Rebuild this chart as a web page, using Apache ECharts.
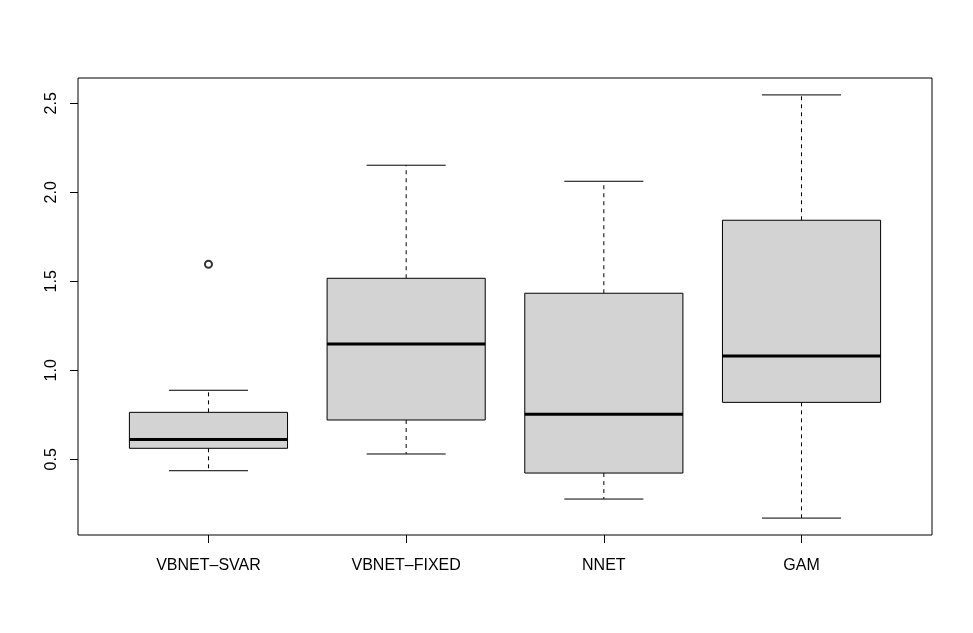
<!DOCTYPE html>
<html>
<head>
<meta charset="utf-8">
<script src="https://cdn.jsdelivr.net/npm/echarts@6/dist/echarts.min.js"></script>
<style>html,body{margin:0;padding:0;background:#fff}#chart{width:973px;height:633px}</style>
</head>
<body>
<div id="chart"></div>
<script>
const categories = ['VBNET–SVAR', 'VBNET–FIXED', 'NNET', 'GAM'];
const lowerWhisker = [0.436, 0.530, 0.277, 0.170];
const q1 = [0.562, 0.721, 0.423, 0.820];
const median = [0.612, 1.148, 0.753, 1.080];
const q3 = [0.764, 1.517, 1.433, 1.843];
const upperWhisker = [0.888, 2.152, 2.062, 2.547];
const outliers = [[1, 1.596]];
const yTicks = [0.5, 1.0, 1.5, 2.0, 2.5];

const boxData = categories.map((c, i) => [i + 1, lowerWhisker[i], q1[i], median[i], q3[i], upperWhisker[i]]);
const FONT = 'Liberation Sans, Arial, sans-serif';

function renderBox(params, api) {
  const x = api.value(0);
  const lo = api.value(1), a = api.value(2), m = api.value(3), b = api.value(4), hi = api.value(5);
  const boxW = api.size([0.8, 0])[0];
  const stapleW = boxW / 2;
  const c = api.coord([x, 0])[0];
  const yLo = api.coord([x, lo])[1], yA = api.coord([x, a])[1], yM = api.coord([x, m])[1];
  const yB = api.coord([x, b])[1], yHi = api.coord([x, hi])[1];
  const dash = {stroke: '#000', lineWidth: 1, lineDash: [4, 4]};
  const solid = {stroke: '#000', lineWidth: 1};
  return {
    type: 'group',
    children: [
      {type: 'line', shape: {x1: c, y1: yA, x2: c, y2: yLo}, style: dash},
      {type: 'line', shape: {x1: c, y1: yB, x2: c, y2: yHi}, style: dash},
      {type: 'line', shape: {x1: c - stapleW / 2, y1: yLo, x2: c + stapleW / 2, y2: yLo}, style: solid},
      {type: 'line', shape: {x1: c - stapleW / 2, y1: yHi, x2: c + stapleW / 2, y2: yHi}, style: solid},
      {type: 'rect', shape: {x: c - boxW / 2, y: yB, width: boxW, height: yA - yB}, style: {fill: '#d3d3d3', stroke: '#000', lineWidth: 1}},
      {type: 'line', shape: {x1: c - boxW / 2, y1: yM, x2: c + boxW / 2, y2: yM}, style: {stroke: '#000', lineWidth: 3}}
    ]
  };
}

const chart = echarts.init(document.getElementById('chart'));
chart.setOption({
  animation: false,
  backgroundColor: '#fff',
  grid: {left: 78, right: 41, top: 78, bottom: 98, show: true, borderColor: '#000', borderWidth: 1, backgroundColor: 'transparent'},
  xAxis: {
    type: 'value', min: 0.34, max: 4.66,
    splitLine: {show: false},
    axisLine: {show: false},
    axisTick: {show: true, length: 8, lineStyle: {color: '#000'}, customValues: [1, 2, 3, 4]},
    axisLabel: {
      customValues: [1, 2, 3, 4], margin: 23,
      color: '#000', fontSize: 16, fontFamily: FONT,
      formatter: v => categories[Math.round(v) - 1] || ''
    }
  },
  yAxis: {
    type: 'value', min: 0.075, max: 2.642,
    splitLine: {show: false},
    axisLine: {show: false},
    axisTick: {show: true, length: 8, lineStyle: {color: '#000'}, customValues: yTicks},
    axisLabel: {
      customValues: yTicks, rotate: 90, margin: 18,
      color: '#000', fontSize: 16, fontFamily: FONT,
      formatter: v => v.toFixed(1)
    }
  },
  series: [
    {type: 'custom', renderItem: renderBox, data: boxData, encode: {x: 0, y: [1, 2, 3, 4, 5]}, z: 2},
    {type: 'scatter', data: outliers, symbol: 'emptyCircle', symbolSize: 7, itemStyle: {color: '#000', borderColor: '#000', borderWidth: 1}, z: 3}
  ]
});
</script>
</body>
</html>
